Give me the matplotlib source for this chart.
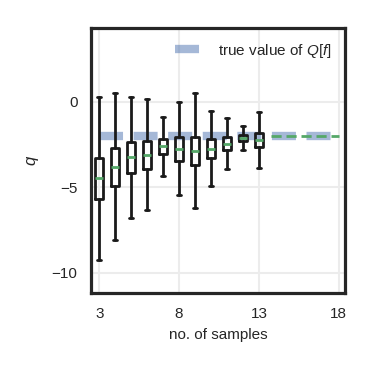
import numpy as np
import matplotlib
matplotlib.use('Agg')
import matplotlib.pyplot as plt
import seaborn as sns

# box statistics, one entry per sample count
n_samples = [3, 4, 5, 6, 7, 8, 9, 10, 11, 12, 13]
whislo = [-9.28, -8.11, -6.80, -6.33, -4.34, -5.47, -6.23, -4.92, -3.95, -2.83, -3.87]
q1 = [-5.72, -4.92, -4.16, -3.93, -3.05, -3.46, -3.71, -3.28, -2.85, -2.30, -2.64]
med = [-4.49, -3.81, -3.24, -3.13, -2.60, -2.77, -2.89, -2.75, -2.46, -2.13, -2.23]
q3 = [-3.32, -2.73, -2.38, -2.29, -2.21, -2.09, -2.05, -2.19, -2.09, -1.95, -1.82]
whishi = [0.25, 0.49, 0.27, 0.16, -0.90, -0.02, 0.49, -0.53, -0.94, -1.43, -0.59]

true_value = -2.0
true_x = [3, 18]
proj_x = [13.75, 18]
proj_y = [-2.0, -2.0]

sns.set_theme(style='white', context='notebook')
plt.rcParams['font.family'] = ['Liberation Sans', 'DejaVu Sans']
plt.rcParams['mathtext.fontset'] = 'custom'
plt.rcParams['mathtext.it'] = 'Liberation Sans:italic'
plt.rcParams['mathtext.rm'] = 'Liberation Sans'
plt.rcParams['lines.scale_dashes'] = False

fig = plt.figure(figsize=(3.73, 3.73), dpi=100)
ax = fig.add_axes([0.245, 0.214, 0.68, 0.711])

blue = sns.color_palette('deep')[0]
green = sns.color_palette('deep')[2]

ax.plot(true_x, [true_value, true_value], color=blue, alpha=0.5, lw=6,
        dashes=(17.3, 7.6), dash_capstyle='butt',
        label='true value of $Q[f]$', zorder=1)

stats = []
for i in range(len(n_samples)):
    stats.append(dict(whislo=whislo[i], q1=q1[i], med=med[i], q3=q3[i],
                      whishi=whishi[i], fliers=[]))

lw = 2.0
ax.bxp(stats, positions=n_samples, widths=0.5, showfliers=False,
       boxprops=dict(color='k', lw=lw),
       whiskerprops=dict(color='k', lw=lw),
       capprops=dict(color='k', lw=lw),
       medianprops=dict(color=green, lw=lw),
       manage_ticks=False, zorder=3)

ax.plot(proj_x, proj_y, color=green, lw=2, dashes=(7.3, 3.5),
        dash_capstyle='butt', zorder=2)

ax.set_xlim(2.5, 18.4)
ax.set_ylim(-11.2, 4.3)
ax.set_xticks([3, 8, 13, 18])
ax.set_yticks([0, -5, -10])
ax.tick_params(labelsize=11, length=0, pad=10)
ax.grid(True, color='#ececec', lw=1.5)
for s in ax.spines.values():
    s.set_linewidth(2.3)
    s.set_color('#262626')
    s.set_visible(True)

ax.set_xlabel('no. of samples', fontsize=11, labelpad=5)
ax.set_ylabel('$q$', fontsize=12, labelpad=8)
ax.legend(loc='upper right', frameon=False, fontsize=11, handlelength=2.0,
          borderaxespad=0.5)

fig.savefig('out.png', dpi=100)
